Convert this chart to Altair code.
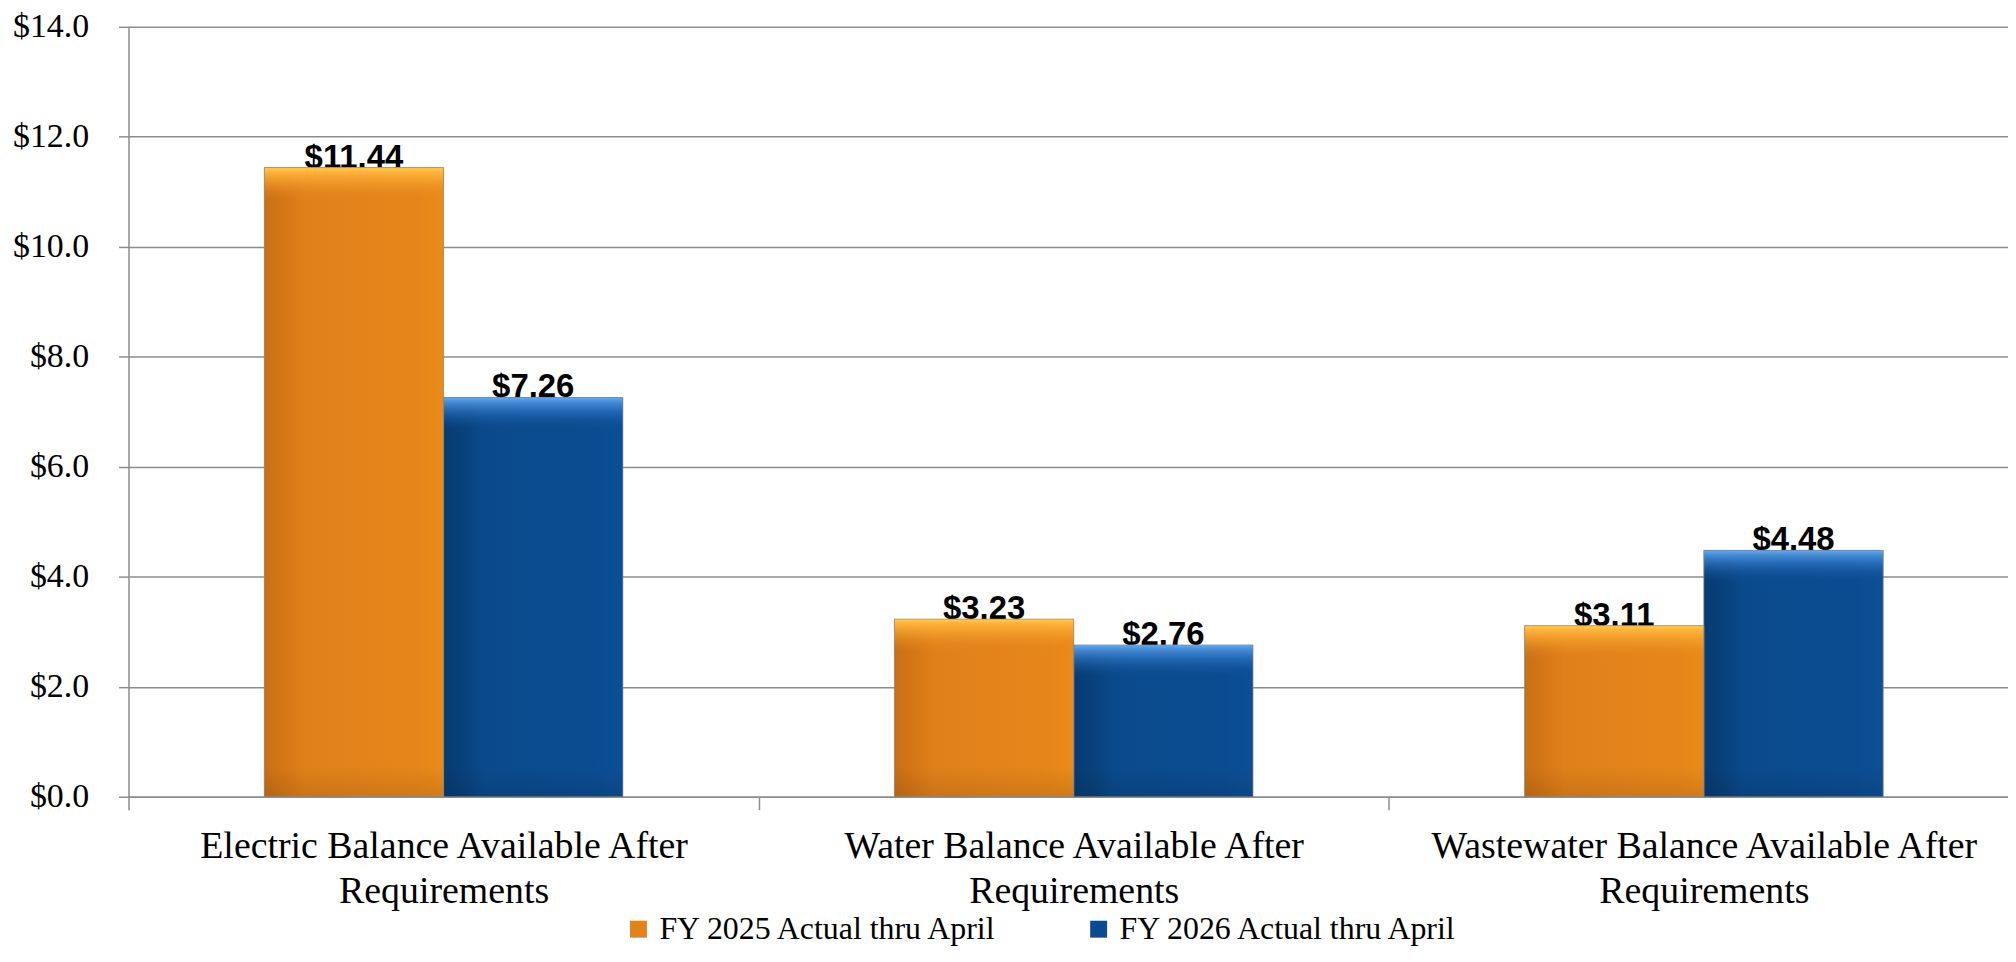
import altair as alt
import pandas as pd

categories = [
    "Electric Balance Available After Requirements",
    "Water Balance Available After Requirements",
    "Wastewater Balance Available After Requirements",
]
series = ["FY 2025 Actual thru April", "FY 2026 Actual thru April"]
fy2025 = [11.44, 3.23, 3.11]
fy2026 = [7.26, 2.76, 4.48]
y_ticks = [0, 2, 4, 6, 8, 10, 12, 14]

rows = []
for s, vals in zip(series, [fy2025, fy2026]):
    for c, v in zip(categories, vals):
        rows.append({"category": c, "series": s, "value": v})
df = pd.DataFrame(rows)

ORANGE = "#E2821A"
BLUE = "#0B4A8E"
GRAY = "#8C8C8C"

X = alt.X(
    "category:N",
    sort=categories,
    scale=alt.Scale(range=[0, 1898], paddingInner=0, paddingOuter=0),
    axis=alt.Axis(
        title=None,
        labelAngle=0,
        tickBand="extent",
        tickSize=13,
        tickColor=GRAY,
        tickWidth=1.5,
        domainColor=GRAY,
        domainWidth=1.5,
        labelFont="Liberation Serif",
        labelFontSize=38,
        labelColor="black",
        labelLineHeight=45,
        labelPadding=18,
        labelLimit=0,
        labelExpr="datum.label == '' ? '' : [replace(datum.label, ' Requirements', ''), 'Requirements']",
    ),
)
XO = alt.XOffset(
    "series:N",
    sort=series,
    scale=alt.Scale(domain=series, paddingInner=0, paddingOuter=0.7575),
)
Y = alt.Y(
    "value:Q",
    scale=alt.Scale(domain=[0, 14], nice=False),
    axis=alt.Axis(
        title=None,
        values=y_ticks,
        format="$.1f",
        tickSize=10,
        tickColor=GRAY,
        tickWidth=1.5,
        labelPadding=30,
        labelFont="Liberation Serif",
        labelFontSize=34,
        labelColor="black",
        gridColor=GRAY,
        gridWidth=1.5,
        domainColor=GRAY,
        domainWidth=1.5,
    ),
)

base = alt.Chart(df).encode(x=X, xOffset=XO, y=Y)


def grad_h(stops):
    return alt.Gradient(
        gradient="linear",
        stops=[alt.GradientStop(offset=o, color=c) for o, c in stops],
        x1=0, x2=1, y1=0, y2=0,
    )


def grad_v(stops):
    return alt.Gradient(
        gradient="linear",
        stops=[alt.GradientStop(offset=o, color=c) for o, c in stops],
        x1=0, x2=0, y1=0, y2=1,
    )


text = base.mark_text(
    font="Liberation Sans", fontWeight="bold", fontSize=33, baseline="alphabetic",
    dy=0, color="black",
).encode(text=alt.Text("value:Q", format="$.2f"))

bars = base.mark_bar().encode(
    color=alt.Color(
        "series:N",
        sort=series,
        scale=alt.Scale(domain=series, range=[ORANGE, BLUE]),
        legend=alt.Legend(
            title=None,
            orient="none",
            legendX=496,
            legendY=890,
            direction="horizontal",
            symbolType="square",
            symbolSize=289,
            symbolStrokeWidth=0,
            labelFont="Liberation Serif",
            labelFontSize=32,
            labelColor="black",
            labelOffset=5,
            columnPadding=83,
            padding=0,
            labelLimit=0,
        ),
    )
)

side_o = base.transform_filter(alt.datum.series == series[0]).mark_bar(
    color=grad_h([(0, "#C96F14"), (0.15, "#D97A17"), (0.22, "#E0801A"), (0.85, "#E6861A"), (1, "#EA8A18")])
)
side_b = base.transform_filter(alt.datum.series == series[1]).mark_bar(
    color=grad_h([(0, "#073A72"), (0.15, "#09447F"), (0.22, "#0A4A8C"), (0.85, "#0B4C91"), (1, "#0C4F95")])
)
top_o = base.transform_filter(alt.datum.series == series[0]).transform_calculate(
    v2="datum.value - 0.6"
).mark_bar(
    color=grad_v([(0, "#FFCB5A"), (0.12, "#FFB53E"), (0.5, "rgba(245,160,45,0.6)"), (1, "rgba(226,130,26,0)")])
).encode(y2="v2:Q")
top_b = base.transform_filter(alt.datum.series == series[1]).transform_calculate(
    v2="datum.value - 0.6"
).mark_bar(
    color=grad_v([(0, "#6AAAEC"), (0.12, "#4A8FD8"), (0.5, "rgba(40,110,190,0.6)"), (1, "rgba(11,74,142,0)")])
).encode(y2="v2:Q")
bottom = base.transform_calculate(v0="0", v1="0.55").mark_bar(
    color=grad_v([(0, "rgba(0,0,0,0)"), (1, "rgba(0,0,0,0.10)")])
).encode(y="v1:Q", y2="v0:Q")
outline = base.mark_bar(fillOpacity=0, stroke="#8a8a8a", strokeWidth=1, strokeOpacity=0.7)

chart = alt.layer(
    text, bars, side_o, side_b, bottom, top_o, top_b, outline
).properties(
    width=1887,
    height=773,
    padding={"left": 121, "top": 17, "right": 0, "bottom": 148},
    autosize=alt.AutoSizeParams(type="none"),
).configure_view(stroke=None)

chart.save("out.html", embed_options={"renderer": "svg", "actions": False})
